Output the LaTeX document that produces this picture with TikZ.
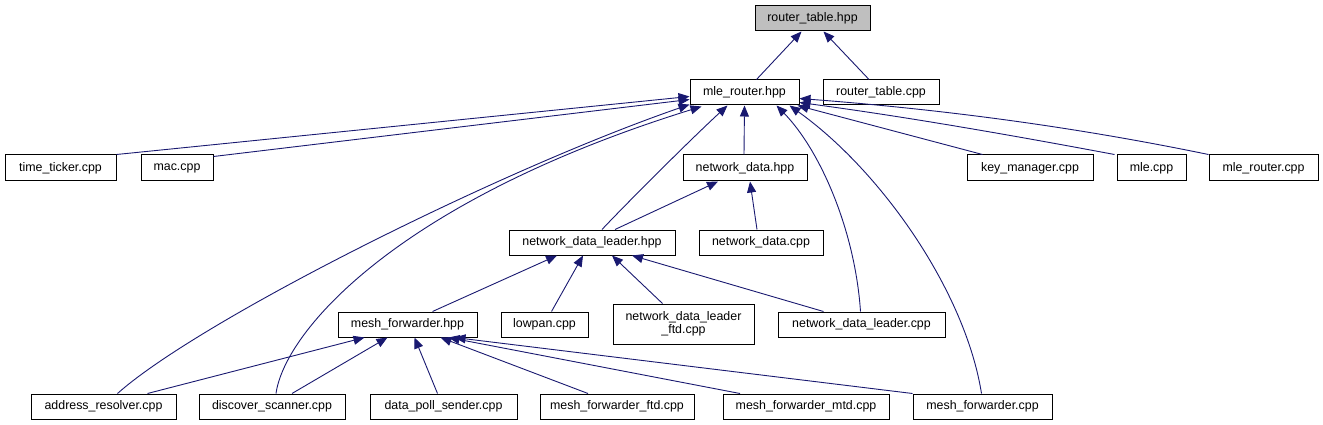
\documentclass[tikz,border=0pt]{standalone}
\usepackage{fontspec}
\setmainfont{Liberation Sans}
\usetikzlibrary{arrows.meta,calc}
\definecolor{edgeblue}{HTML}{191970}
\definecolor{rootgray}{HTML}{BFBFBF}
\begin{document}
\begin{tikzpicture}[x=1pt,y=-1pt,
  box/.style={draw=black,line width=1pt,fill=white,inner sep=0pt,minimum height=25pt,
    font=\fontsize{12.4}{13.5}\selectfont,align=center},
  edge/.style={draw=edgeblue,line width=0.9pt,-{Triangle[length=11pt,width=9pt]}}]
\useasboundingbox (0,0) rectangle (1323,425);
% level 0
\node[box,fill=rootgray,minimum width=115pt] (rth) at (812.5,18.5) {router\_table.hpp};
% level 1
\node[box,minimum width=109pt] (mlr) at (744.5,92.5) {mle\_router.hpp};
\node[box,minimum width=116pt] (rtc) at (881,92.5) {router\_table.cpp};
% level 2
\node[box,minimum width=111pt,minimum height=26pt] (tt) at (60.5,168) {time\_ticker.cpp};
\node[box,minimum width=72pt,minimum height=26pt] (mac) at (177,168) {mac.cpp};
\node[box,minimum width=124pt,minimum height=26pt] (ndh) at (745,168) {network\_data.hpp};
\node[box,minimum width=126pt,minimum height=26pt] (km) at (1030,168) {key\_manager.cpp};
\node[box,minimum width=69pt,minimum height=26pt] (mle) at (1151.5,168) {mle.cpp};
\node[box,minimum width=109pt,minimum height=26pt] (mlrc) at (1263.5,168) {mle\_router.cpp};
% level 3
\node[box,minimum width=166pt] (ndlh) at (592,242.5) {network\_data\_leader.hpp};
\node[box,minimum width=124pt] (ndc) at (761,242.5) {network\_data.cpp};
% level 4
\node[box,minimum width=139pt] (mfh) at (407.5,324.5) {mesh\_forwarder.hpp};
\node[box,minimum width=87pt] (lowpan) at (544.5,324.5) {lowpan.cpp};
\node[box,minimum width=141pt,minimum height=40pt] (ndlftd) at (683.5,324) {network\_data\_leader\\\_ftd.cpp};
\node[box,minimum width=167pt] (ndlc) at (861.5,324.5) {network\_data\_leader.cpp};
% level 5
\node[box,minimum width=145pt] (ar) at (103.5,406.5) {address\_resolver.cpp};
\node[box,minimum width=146pt] (ds) at (272,406.5) {discover\_scanner.cpp};
\node[box,minimum width=147pt] (dps) at (443.5,406.5) {data\_poll\_sender.cpp};
\node[box,minimum width=154pt] (mff) at (617,406.5) {mesh\_forwarder\_ftd.cpp};
\node[box,minimum width=166pt] (mfm) at (806,406.5) {mesh\_forwarder\_mtd.cpp};
\node[box,minimum width=139pt] (mfc) at (982.5,406.5) {mesh\_forwarder.cpp};
% edges to router_table.hpp
\draw[edge] ($(mlr.north)+(12,0)$) -- ($(rth.south)+(-11,0)$);
\draw[edge] ($(rtc.north)+(-12,0)$) -- ($(rth.south)+(11,0)$);
% edges to mle_router.hpp
\draw[edge] (tt.north east) -- ($(mlr.north west)+(0,17)$);
\draw[edge] ($(mac.north east)+(0,2)$) -- ($(mlr.north west)+(0,20)$);
\draw[edge] ($(ar.north west)+(87,0)$) .. controls (200,320) and (500,170) .. ($(mlr.south west)+(0,-1)$);
\draw[edge] ($(ds.north)+(4,0)$) .. controls (285,330) and (400,200) .. ($(mlr.south west)+(12,1)$);
\draw[edge] ($(ndlh.north)+(10,0)$) .. controls (625,205) and (690,140) .. ($(mlr.south)+(-17,0)$);
\draw[edge] ($(ndh.north)+(-1,0)$) -- (mlr.south);
\draw[edge] ($(ndlc.north)+(-1,0)$) .. controls (855,230) and (820,150) .. ($(mlr.south)+(32,0)$);
\draw[edge] ($(mfc.north)+(-1,0)$) .. controls (965,290) and (880,170) .. ($(mlr.south)+(45,0)$);
\draw[edge] ($(km.north west)+(16,0)$) -- ($(mlr.south east)+(-2,0)$);
\draw[edge] ($(mle.north west)+(-2,0)$) .. controls (1000,133) and (900,116) .. ($(mlr.south east)+(0,-3)$);
\draw[edge] (mlrc.north west) .. controls (1080,128) and (950,110) .. ($(mlr.south east)+(0,-7)$);
% edges to network_data.hpp
\draw[edge] ($(ndlh.north)+(23,0)$) -- ($(ndh.south)+(-27,0)$);
\draw[edge] ($(ndc.north)+(-4,0)$) -- ($(ndh.south)+(5,0)$);
% edges to network_data_leader.hpp
\draw[edge] ($(mfh.north)+(25,0)$) -- ($(ndlh.south)+(-35,0)$);
\draw[edge] ($(lowpan.north)+(7,0)$) -- ($(ndlh.south)+(-9,0)$);
\draw[edge] ($(ndlftd.north)+(-21,0)$) -- ($(ndlh.south)+(20,0)$);
\draw[edge] ($(ndlc.north)+(-38,0)$) -- ($(ndlh.south)+(40,0)$);
% edges to mesh_forwarder.hpp
\draw[edge] ($(ar.north)+(44,0)$) -- ($(mfh.south)+(-43,0)$);
\draw[edge] ($(ds.north)+(20,0)$) -- ($(mfh.south)+(-20,0)$);
\draw[edge] ($(dps.north)+(-6,0)$) -- ($(mfh.south)+(7,0)$);
\draw[edge] ($(mff.north)+(-29,0)$) -- ($(mfh.south)+(33,0)$);
\draw[edge] ($(mfm.north)+(-66,0)$) -- ($(mfh.south)+(41,0)$);
\draw[edge] (mfc.north west) -- ($(mfh.south)+(47,0)$);
\end{tikzpicture}
\end{document}
